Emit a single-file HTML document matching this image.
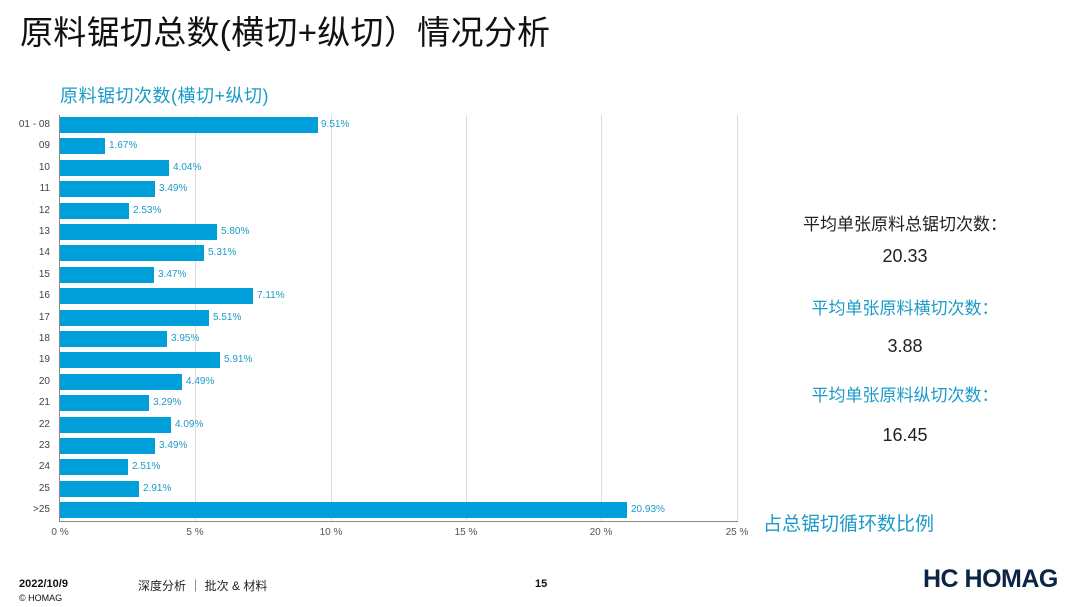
<!DOCTYPE html>
<html><head><meta charset="utf-8"><style>
body{margin:0;width:1080px;height:607px;background:#fff;position:relative;overflow:hidden;font-family:"Liberation Sans","Noto Sans CJK SC",sans-serif}
.a{position:absolute;white-space:nowrap}
.b{position:absolute;left:60px;height:16px;background:#009fda}
.v{position:absolute;font-size:10px;color:#1b9bc8;line-height:16px}
.l{position:absolute;right:1030px;font-size:10px;color:#444;line-height:16px;text-align:right}
.g{position:absolute;top:115px;width:1px;height:406px;background:#ddd}
.t{position:absolute;top:527px;font-size:10px;color:#555;transform:translateX(-50%)}
.r{position:absolute;width:300px;left:755px;text-align:center}
</style></head><body>
<div class="a" style="left:20px;top:6px;font-size:33px;color:#111;letter-spacing:0.3px">原料锯切总数(横切+纵切）情况分析</div>
<div class="a" style="left:60px;top:82px;font-size:18px;color:#1b9bc8;letter-spacing:0.5px">原料锯切次数(横切+纵切)</div>
<div class="g" style="left:195px"></div><div class="g" style="left:331px"></div><div class="g" style="left:466px"></div><div class="g" style="left:601px"></div><div class="g" style="left:737px"></div>
<div class="a" style="left:59px;top:115px;width:1px;height:407px;background:#888"></div>
<div class="a" style="left:59px;top:521px;width:679px;height:1px;background:#888"></div>
<div class="t" style="left:60px">0 %</div><div class="t" style="left:195px">5 %</div><div class="t" style="left:331px">10 %</div><div class="t" style="left:466px">15 %</div><div class="t" style="left:601px">20 %</div><div class="t" style="left:737px">25 %</div>

<div class="b" style="top:117px;width:258px"></div><div class="v" style="top:117px;left:321px">9.51%</div><div class="l" style="top:117px">01 - 08</div>
<div class="b" style="top:138px;width:45px"></div><div class="v" style="top:138px;left:109px">1.67%</div><div class="l" style="top:138px">09</div>
<div class="b" style="top:160px;width:109px"></div><div class="v" style="top:160px;left:173px">4.04%</div><div class="l" style="top:160px">10</div>
<div class="b" style="top:181px;width:95px"></div><div class="v" style="top:181px;left:159px">3.49%</div><div class="l" style="top:181px">11</div>
<div class="b" style="top:203px;width:69px"></div><div class="v" style="top:203px;left:133px">2.53%</div><div class="l" style="top:203px">12</div>
<div class="b" style="top:224px;width:157px"></div><div class="v" style="top:224px;left:221px">5.80%</div><div class="l" style="top:224px">13</div>
<div class="b" style="top:245px;width:144px"></div><div class="v" style="top:245px;left:208px">5.31%</div><div class="l" style="top:245px">14</div>
<div class="b" style="top:267px;width:94px"></div><div class="v" style="top:267px;left:158px">3.47%</div><div class="l" style="top:267px">15</div>
<div class="b" style="top:288px;width:193px"></div><div class="v" style="top:288px;left:257px">7.11%</div><div class="l" style="top:288px">16</div>
<div class="b" style="top:310px;width:149px"></div><div class="v" style="top:310px;left:213px">5.51%</div><div class="l" style="top:310px">17</div>
<div class="b" style="top:331px;width:107px"></div><div class="v" style="top:331px;left:171px">3.95%</div><div class="l" style="top:331px">18</div>
<div class="b" style="top:352px;width:160px"></div><div class="v" style="top:352px;left:224px">5.91%</div><div class="l" style="top:352px">19</div>
<div class="b" style="top:374px;width:122px"></div><div class="v" style="top:374px;left:186px">4.49%</div><div class="l" style="top:374px">20</div>
<div class="b" style="top:395px;width:89px"></div><div class="v" style="top:395px;left:153px">3.29%</div><div class="l" style="top:395px">21</div>
<div class="b" style="top:417px;width:111px"></div><div class="v" style="top:417px;left:175px">4.09%</div><div class="l" style="top:417px">22</div>
<div class="b" style="top:438px;width:95px"></div><div class="v" style="top:438px;left:159px">3.49%</div><div class="l" style="top:438px">23</div>
<div class="b" style="top:459px;width:68px"></div><div class="v" style="top:459px;left:132px">2.51%</div><div class="l" style="top:459px">24</div>
<div class="b" style="top:481px;width:79px"></div><div class="v" style="top:481px;left:143px">2.91%</div><div class="l" style="top:481px">25</div>
<div class="b" style="top:502px;width:567px"></div><div class="v" style="top:502px;left:631px">20.93%</div><div class="l" style="top:502px">&gt;25</div>

<div class="a" style="left:763px;top:509px;font-size:19px;color:#1b9bc8">占总锯切循环数比例</div>
<div class="r" style="top:210px;font-size:17px;color:#222">平均单张原料总锯切次数：</div>
<div class="r" style="top:246px;font-size:18px;color:#222">20.33</div>
<div class="r" style="top:294px;font-size:17px;color:#1b9bc8">平均单张原料横切次数：</div>
<div class="r" style="top:336px;font-size:18px;color:#222">3.88</div>
<div class="r" style="top:381px;font-size:17px;color:#1b9bc8">平均单张原料纵切次数：</div>
<div class="r" style="top:425px;font-size:18px;color:#222">16.45</div>

<div class="a" style="left:19px;top:578px;font-size:11px;font-weight:bold;color:#111">2022/10/9</div>
<div class="a" style="left:19px;top:593px;font-size:9px;color:#111">© HOMAG</div>
<div class="a" style="left:138px;top:577px;font-size:12px;color:#222">深度分析 ｜ 批次 &amp; 材料</div>
<div class="a" style="left:535px;top:578px;font-size:11px;font-weight:bold;color:#111">15</div>
<div class="a" style="left:923px;top:565px;font-size:25px;font-weight:bold;color:#0d2545;letter-spacing:-0.5px">HC HOMAG</div>
</body></html>
